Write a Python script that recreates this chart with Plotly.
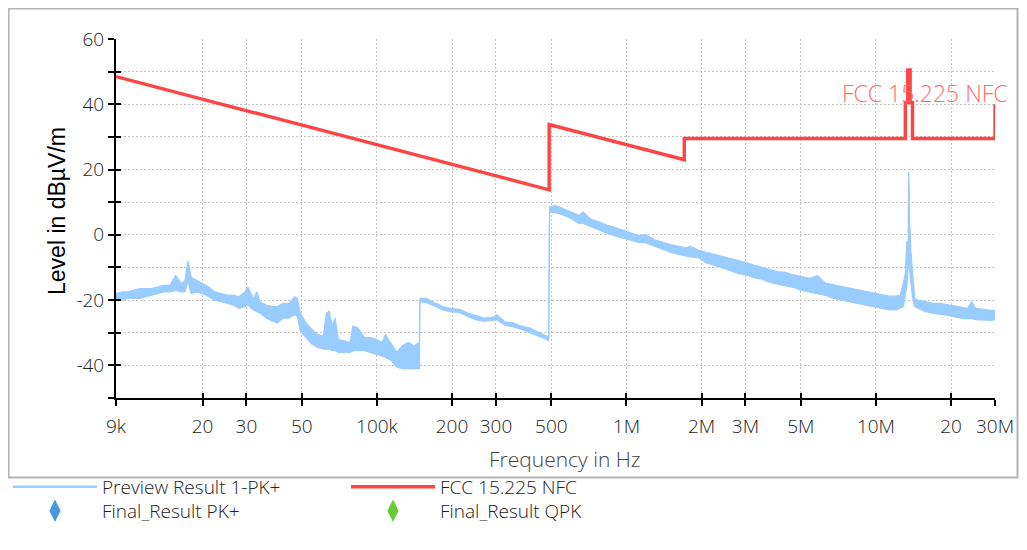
import plotly.graph_objects as go
import numpy as np

# ---------------- data ----------------
# Preview Result 1-PK+ : noisy trace, read as upper / lower edge of the trace band
preview_freq_khz = [
    9, 9.5, 10, 10.6, 11.2, 11.8, 12.4, 13.2, 14, 14.8, 15.6, 16.5, 17, 17.5, 18, 19, 20,
    21.2, 22.4, 23.7, 25.1, 26.5, 28, 29.6, 30.4, 32, 33, 34, 36, 38, 40, 42, 44.4, 46.8,
    48, 49.3, 52, 54.8, 57.8, 61, 62.7, 64.4, 66.2, 68, 70, 74, 78, 80, 84, 89, 94, 99,
    105, 108, 114, 120, 126.5, 133.5, 141, 148,
    148.6, 158, 170, 184, 198, 214, 231, 249, 269, 291, 302, 326, 352, 380, 410, 443, 478, 488,
    492, 520, 560, 600, 645, 670, 720, 775, 835, 900, 970, 1040, 1120, 1200, 1300, 1400,
    1500, 1620, 1740, 1800, 1940, 2090, 2250, 2420, 2600, 2800, 3000, 3240, 3480, 3750,
    4030, 4340, 4670, 5030, 5420, 5830, 6280, 6760, 7270, 7830, 8430, 9080, 9770, 10500,
    11300, 12100, 12500, 12900, 13100, 13300, 13450, 13520, 13600, 13650, 13720, 13800,
    14000, 14300, 14700, 15700, 16900, 18100, 19500, 20900, 22500, 23300, 24200, 25100,
    27000, 29000, 30000,
]
preview_upper_dbuv = [
    -18, -17.5, -17.5, -17, -16.5, -16.5, -16.5, -16, -15.5, -15.5, -12.5, -15, -14, -8, -13,
    -14, -15, -16, -17.5, -18, -18.5, -18.5, -19, -17.5, -16, -19.5, -17.5, -20.5, -21.5,
    -22, -22, -21, -21, -19, -19.5, -24, -27, -29, -30.5, -31, -24, -23.5, -28, -25.5, -32,
    -32.5, -33, -28, -28.5, -31.5, -31.5, -32, -33, -30.5, -33.5, -36, -34, -33, -34, -33,
    -19.5, -19.5, -20.8, -22, -22.6, -22.8, -24, -24.8, -25.5, -25.3, -24.5, -26.7, -27,
    -28, -28.6, -29.8, -30.8, -31.3,
    8.5, 9, 8, 7, 6, 7, 4.8, 4, 3, 2.3, 1.3, 0.6, -0.2, 0.0, -1.5, -2.3,
    -3.0, -3.5, -4, -3.5, -4.7, -5.4, -6, -6.6, -7.3, -7.8, -8.4, -9.3, -10, -10.7,
    -11.3, -11.5, -12.3, -12.8, -13.3, -12.5, -14.8, -15.3, -15.8, -16.3, -16.8, -17.3, -17.8, -18.3,
    -18.8, -18.8, -18.5, -14.5, -12, -2, -4, 19.4, 14, 2, 1.5, -5,
    -11, -19.5, -20, -20.5, -21, -21, -21.5, -22, -22.3, -22.5, -20.5, -22.5,
    -22.8, -23, -23.3,
]
preview_lower_dbuv = [
    -19.5, -20, -19.5, -19.5, -19.5, -19, -18.5, -18, -17.5, -17.5, -17, -17.5, -17.5, -14, -18,
    -17.5, -18, -19, -20, -20.5, -21, -21.5, -22.5, -22, -21.5, -23, -23.5, -24, -25.5,
    -26.5, -27, -25.5, -25.5, -24.5, -25, -29.5, -31.5, -33.5, -34.5, -35, -35, -35, -35.5, -35.5, -36,
    -36, -36, -35.5, -35.5, -35.5, -36, -36.5, -37, -37.5, -38.5, -40.5, -41, -41, -41, -41,
    -20.5, -20.8, -21.8, -23, -23.6, -23.8, -25, -26, -26.5, -26.3, -26, -27.7, -28.2,
    -29, -30, -30.8, -32, -32.5,
    7, 6.8, 6, 5, 3.5, 3.5, 2.5, 1.5, 0.5, -0.3, -1, -1.5, -2.3, -2.5, -3.5, -4.5,
    -5.3, -6, -6.5, -6.8, -7, -8.6, -9.3, -10.1, -11, -11.8, -12.3, -13.1, -13.6, -14.6,
    -15.1, -15.6, -16.1, -17, -17.6, -18, -18.6, -19.5, -20, -20.5, -21, -21.5, -22, -22.5,
    -23, -23, -22.5, -22, -18, -16, -10, -8, -6, -11, -13, -15,
    -19, -22, -22.5, -23.5, -24, -24.3, -24.7, -25.2, -25.7, -25.7, -25.7, -26,
    -26.2, -26.2, -26,
]

limit_freq_khz = [9, 490, 490, 1705, 1705, 13110, 13110, 13410, 13410, 13710, 13710,
                  14010, 14010, 30000, 30000]
limit_level_dbuv = [48.5, 13.8, 33.8, 23.0, 29.5, 29.5, 40.5, 40.5, 50.5, 50.5, 40.5,
                    40.5, 29.5, 29.5, 40.0]

x_tick_vals = [9e3, 2e4, 3e4, 5e4, 1e5, 2e5, 3e5, 5e5, 1e6, 2e6, 3e6, 5e6, 1e7, 2e7, 3e7]
x_tick_text = ["9k", "20", "30", "50", "100k", "200", "300", "500", "1M", "2M", "3M",
               "5M", "10M", "20", "30M"]
y_tick_vals = [-50, -40, -30, -20, -10, 0, 10, 20, 30, 40, 50, 60]
y_tick_text = ["", "-40", "", "-20", "", "0", "", "20", "", "40", "", "60"]

# ---------------- figure ----------------
FONT = "Open Sans"
TXT = "#222222"
BLUE = "#99CCFF"
x_range = [np.log10(9e3), np.log10(3e7)]
y_range = [-50, 60]
f_hz = np.array(preview_freq_khz) * 1e3

fig = go.Figure()

fig.add_trace(go.Scatter(
    x=f_hz, y=preview_lower_dbuv, mode="lines", showlegend=False, hoverinfo="skip",
    line=dict(color=BLUE, width=1.2),
))
fig.add_trace(go.Scatter(
    x=f_hz, y=preview_upper_dbuv, mode="lines", showlegend=False,
    line=dict(color=BLUE, width=1.2), fill="tonexty", fillcolor=BLUE,
))
fig.add_trace(go.Scatter(
    x=[None], y=[None], mode="lines", name="Preview Result 1-PK+", legend="legend",
    legendrank=1, line=dict(color=BLUE, width=2.5),
))
fig.add_trace(go.Scatter(
    x=np.array(limit_freq_khz) * 1e3, y=limit_level_dbuv,
    mode="lines", name="FCC 15.225 NFC", legend="legend", legendrank=2,
    line=dict(color="#FF4444", width=3.4),
))
fig.add_trace(go.Scatter(
    x=[None], y=[None], mode="markers", name="Final_Result PK+", legend="legend2",
    legendrank=3, marker=dict(symbol="diamond-tall", color="#4499DD", size=17),
))
fig.add_trace(go.Scatter(
    x=[None], y=[None], mode="markers", name="Final_Result QPK", legend="legend2",
    legendrank=4, marker=dict(symbol="diamond-tall", color="#66CC33", size=17),
))
# hidden trace for the overlay axes (inside tick marks)
fig.add_trace(go.Scatter(x=[None], y=[None], xaxis="x2", yaxis="y2",
                         showlegend=False, hoverinfo="skip"))

axis_common = dict(showline=True, linecolor="black", linewidth=2, zeroline=False,
                   tickcolor="black", tickwidth=2, ticklen=6, automargin=False)

legend_common = dict(
    orientation="h", xref="container", yref="container", x=0.0, xanchor="left",
    yanchor="middle", entrywidth=239, itemwidth=84, traceorder="normal",
    font=dict(family=FONT, size=19, color=TXT, weight=300), bgcolor="rgba(0,0,0,0)",
)

fig.update_layout(
    width=1011, height=534,
    margin=dict(l=108, r=23.5, t=31, b=144, autoexpand=False),
    paper_bgcolor="white", plot_bgcolor="white",
    showlegend=True,
    xaxis=dict(
        type="log", range=x_range, tickvals=x_tick_vals, ticktext=x_tick_text,
        ticks="outside", showgrid=True, gridcolor="#c4c4c4", griddash="2px,2px", gridwidth=1,
        tickfont=dict(family=FONT, size=19, color=TXT, weight=300), ticklabelstandoff=4,
        **axis_common,
    ),
    yaxis=dict(
        range=y_range, tickvals=y_tick_vals, ticktext=y_tick_text,
        ticks="outside", showgrid=True, gridcolor="#c4c4c4", griddash="2px,2px", gridwidth=1,
        tickfont=dict(family=FONT, size=19, color=TXT, weight=300),
        **axis_common,
    ),
    xaxis2=dict(type="log", range=x_range, tickvals=x_tick_vals, overlaying="x",
                anchor="y2", side="bottom", ticks="inside", showticklabels=False,
                showgrid=False, showline=False, zeroline=False,
                tickcolor="black", tickwidth=2, ticklen=5),
    yaxis2=dict(range=y_range, tickvals=y_tick_vals, overlaying="y", anchor="x2",
                side="left", ticks="inside", showticklabels=False, showgrid=False,
                showline=False, zeroline=False, tickcolor="black", tickwidth=2, ticklen=5),
    legend=dict(y=0.1031, **legend_common),
    legend2=dict(y=0.0581, **legend_common),
    shapes=[dict(type="rect", xref="paper", yref="paper",
                 x0=-0.1222, x1=1.0256, y0=-0.2213, y1=1.085,
                 line=dict(color="#b4b4b4", width=2), layer="below")],
    annotations=[
        dict(text="Frequency in Hz", xref="paper", yref="paper", x=0.5105, y=-0.1700,
             xanchor="center", yanchor="middle", showarrow=False,
             font=dict(family=FONT, size=21, color="#444444", weight=300)),
        dict(text="Level in dBµV/m", xref="paper", yref="paper", x=-0.0671, y=0.521,
             xanchor="center", yanchor="middle", showarrow=False, textangle=-90,
             font=dict(family="Liberation Sans", size=23, color="black")),
        dict(text="FCC 15.225 NFC", xref="x", yref="y", x=np.log10(3e7), y=43.5,
             xanchor="right", yanchor="middle", xshift=14.5, showarrow=False,
             font=dict(family=FONT, size=23, color="#FF6B6B", weight=300)),
    ],
)

fig.write_html("out.html")
